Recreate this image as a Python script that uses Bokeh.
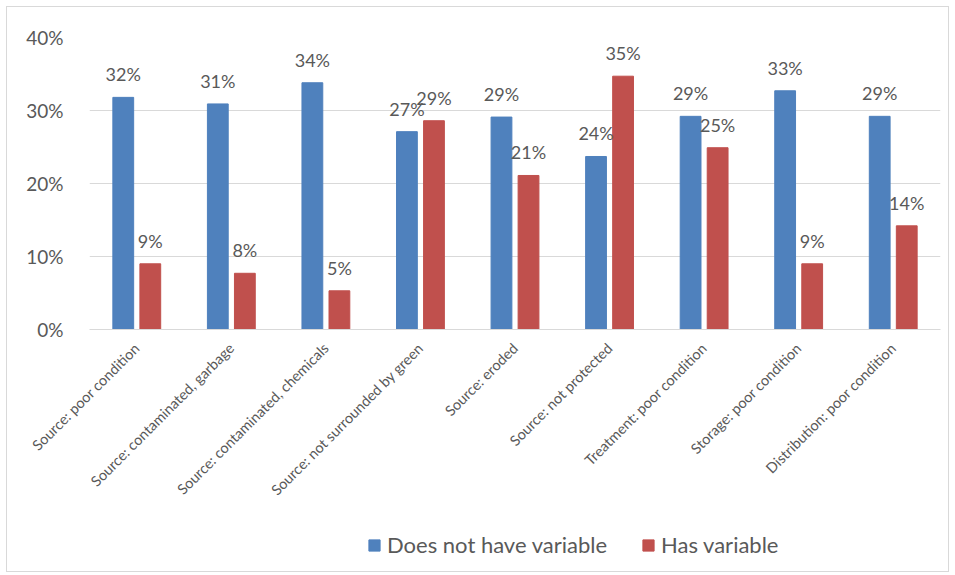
import math
from bokeh.plotting import figure
from bokeh.layouts import column
from bokeh.models import ColumnDataSource, LabelSet, Legend, LegendItem, NumeralTickFormatter, FixedTicker
from bokeh.transform import dodge
from bokeh.core.properties import value
from bokeh.embed import file_html
from bokeh.resources import INLINE

categories = [
    "Source: poor condition",
    "Source: contaminated, garbage",
    "Source: contaminated, chemicals",
    "Source: not surrounded by green",
    "Source: eroded",
    "Source: not protected",
    "Treatment: poor condition",
    "Storage: poor condition",
    "Distribution: poor condition",
]
does_not_have = [0.318, 0.309, 0.338, 0.271, 0.291, 0.237, 0.292, 0.327, 0.292]
has_variable = [0.090, 0.077, 0.053, 0.286, 0.211, 0.347, 0.249, 0.090, 0.142]
series_names = ["Does not have variable", "Has variable"]
y_ticks = [0, 0.1, 0.2, 0.3, 0.4]

BLUE = "#4f81bd"
RED = "#c0504d"
GREY = "#595959"
FONT = "Lato"

src = ColumnDataSource(dict(
    cat=categories,
    a=does_not_have,
    b=has_variable,
    a_lbl=[f"{round(v*100):.0f}%" for v in does_not_have],
    b_lbl=[f"{round(v*100):.0f}%" for v in has_variable],
))

p = figure(x_range=categories, y_range=(0, 0.4), frame_width=851, frame_height=292,
           output_backend="svg", toolbar_location=None,
           min_border_left=82, min_border_right=8, min_border_top=30, min_border_bottom=190)
p.outline_line_color = None
p.x_range.range_padding = 0
p.x_range.factor_padding = 0

off = 0.143
w = 0.22
p.vbar(x=dodge("cat", -off, range=p.x_range), top="a", width=w, source=src,
       fill_color=BLUE, line_color=BLUE)
p.vbar(x=dodge("cat", off, range=p.x_range), top="b", width=w, source=src,
       fill_color=RED, line_color=RED)

for col, lbl, o in (("a", "a_lbl", -off), ("b", "b_lbl", off)):
    ls = LabelSet(x=dodge("cat", o, range=p.x_range), y=col, text=lbl, source=src,
                  text_align="center", text_baseline="bottom", y_offset=12,
                  text_font=value(FONT), text_font_size="18px", text_color=GREY)
    p.add_layout(ls)

p.yaxis.ticker = FixedTicker(ticks=y_ticks)
p.yaxis.formatter = NumeralTickFormatter(format="0%")
p.yaxis.axis_line_color = None
p.yaxis.major_tick_line_color = None
p.yaxis.minor_tick_line_color = None
p.yaxis.major_label_text_font = FONT
p.yaxis.major_label_text_font_size = "19px"
p.yaxis.major_label_text_color = GREY
p.yaxis.major_label_standoff = 20

p.xaxis.axis_line_color = "#d9d9d9"
p.xaxis.major_tick_line_color = None
p.xaxis.minor_tick_line_color = None
p.xaxis.major_label_orientation = math.pi / 4
p.xaxis.major_label_text_font = FONT
p.xaxis.major_label_text_font_size = "14.5px"
p.xaxis.major_label_text_color = GREY
p.xaxis.major_label_standoff = 10

p.xgrid.grid_line_color = None
p.ygrid.grid_line_color = "#d9d9d9"
p.ygrid.ticker = FixedTicker(ticks=y_ticks)

# Legend strip below the chart (legend keys only; the key renderers sit outside the view)
lg = figure(width=941, height=52, x_range=(0, 1), y_range=(0, 1),
            output_backend="svg", toolbar_location=None,
            min_border_left=0, min_border_right=0, min_border_top=0, min_border_bottom=0)
lg.axis.visible = False
lg.grid.grid_line_color = None
lg.outline_line_color = None
key_src = ColumnDataSource(dict(x=[-5], top=[0]))
k1 = lg.vbar(x="x", top="top", width=0.1, source=key_src, fill_color=BLUE, line_color=BLUE)
k2 = lg.vbar(x="x", top="top", width=0.1, source=key_src, fill_color=RED, line_color=RED)
legend = Legend(items=[LegendItem(label=series_names[0], renderers=[k1]),
                       LegendItem(label=series_names[1], renderers=[k2])],
                orientation="horizontal", location=(278, 13),
                label_text_font=FONT, label_text_font_size="22px", label_text_color=GREY,
                glyph_width=14, glyph_height=14, spacing=34, label_standoff=6,
                margin=0, padding=0,
                border_line_color=None, background_fill_alpha=0)
lg.add_layout(legend)

layout = column(p, lg, spacing=0,
                styles={"border": "1px solid #d9d9d9", "margin-left": "6px", "margin-top": "6px"})

open("out.html", "w").write(file_html(layout, INLINE))
